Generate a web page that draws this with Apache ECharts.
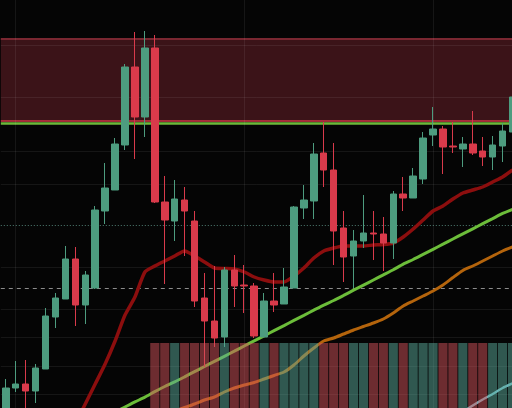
<!DOCTYPE html>
<html><head><meta charset="utf-8">
<script src="https://cdn.jsdelivr.net/npm/echarts@6/dist/echarts.min.js"></script>
<style>html,body{margin:0;padding:0;background:#050505}#c{width:512px;height:408px}</style>
</head><body><div id="c"></div><script>
const categories = ['D01','D02','D03','D04','D05','D06','D07','D08','D09','D10','D11','D12','D13','D14','D15','D16','D17','D18','D19','D20','D21','D22','D23','D24','D25','D26','D27','D28','D29','D30','D31','D32','D33','D34','D35','D36','D37','D38','D39','D40','D41','D42','D43','D44','D45','D46','D47','D48','D49','D50','D51','D52'];
const opens  = [-4,20,24,17,39,91,109,149,103,120,197,218,263,341,291,360,206,187,208,187,110,87,71,138,123,122,71,107,104,120,200,207,255,238,180,152,167,175,174,165,214,210,229,273,279,262,259,264,257,251,262,276];
const closes = [20,24,17,40,92,110,149,103,133,198,220,264,341,291,360,206,188,209,197,107,87,70,138,122,122,72,107,103,121,201,208,254,238,177,151,167,175,174,165,214,210,232,270,279,261,261,264,255,251,263,277,311];
const lows   = [-8,16,-4,5,39,80,109,82,84,119,184,218,258,249,271,205,124,167,152,101,41,61,61,101,95,70,71,96,104,120,189,189,221,143,126,120,160,148,137,149,197,210,224,262,234,255,241,253,242,238,246,270];
const highs  = [29,47,48,44,100,115,162,161,137,202,245,270,344,376,377,373,232,228,221,197,135,142,141,153,143,125,115,135,140,202,223,265,286,265,197,178,213,197,191,217,231,240,276,301,282,286,271,297,271,272,285,315];
const volumes = [null,null,null,null,null,null,null,null,null,null,null,null,null,null,null,100,100,100,100,100,100,100,100,100,100,100,100,100,100,100,100,100,100,100,100,100,100,100,100,100,100,100,100,100,100,100,100,100,100,100,100,100];
const maRed = [null,null,null,null,null,null,null,-16,4,24,44,67,93,111,136,142,147,152,157,152,146,140,139.5,139,136,131,128,126,126,132,140,150,157,160,162,162,162,163,163.5,165,171,179,188,197,202,209,215,218,221,226,231,238];
const maGreen = [null,null,null,null,null,null,null,null,null,null,null,-4.1,1.0,6.1,10.8,16.4,21.5,26.1,31.2,36.4,41.5,46.6,51.7,56.8,62.0,67.1,72.2,77.3,82.4,87.6,92.7,97.8,102.9,107.5,112.6,117.8,122.9,128.0,133.1,138.2,143.9,148.5,153.6,158.7,163.8,169.0,174.1,179.2,184.3,189.4,194.6,198.7];
const maOrange = [null,null,null,null,null,null,null,null,null,null,null,null,null,null,null,null,null,-3,0.5,4,8,11,16,20,23,25.5,29,32.5,36,43,52,60,67,70,74,78,81.5,85,89,95,102,107,112,117,123,130.5,137.5,142,147,152,157,161];
const maTeal = [null,null,null,null,null,null,null,null,null,null,null,null,null,null,null,null,null,null,null,null,null,null,null,null,null,null,null,null,null,null,null,null,null,null,null,null,null,null,null,null,null,null,null,null,null,null,-4,2.5,8.5,14,20,24.5];
const gridLevels = [363,311,257,224,141,99,71,42,14];
const gridCats = [1,24,43];
const bandTop = 369.2, bandBottom = 287.2, supportLine = 285.2, dottedLevel = 182.7, dashedLevel = 119.7;

const UP = '#4d9c7f', DOWN = '#d93a4b';
const candleData = categories.map((c,i)=>[opens[i],closes[i],lows[i],highs[i]]);
const volData = volumes.map((v,i)=> v==null ? '-' : {value:v, itemStyle:{color: closes[i]>=opens[i] ? 'rgba(92,172,156,0.5)' : 'rgba(214,84,92,0.5)'}});

const chart = echarts.init(document.getElementById('c'), null, {renderer:'canvas'});
const gl = {color:'rgba(255,255,255,0.07)', width:1, type:'solid'};
chart.setOption({
  animation:false,
  backgroundColor:'#050505',
  grid:[{left:0.8, top:0, width:516.7, height:408, outerBoundsMode:'none'},
        {left:0.8, top:343, width:516.7, height:65, outerBoundsMode:'none'}],
  xAxis:[{type:'category', data:categories, gridIndex:0, show:false},
         {type:'category', data:categories, gridIndex:1, show:false}],
  yAxis:[{type:'value', min:0, max:408, gridIndex:0, show:false},
         {type:'value', min:0, max:100, gridIndex:1, show:false}],
  series:[
    {type:'candlestick', name:'price', xAxisIndex:0, yAxisIndex:0, z:3, barWidth:7, data:candleData,
     itemStyle:{color:UP, color0:DOWN, borderColor:UP, borderColor0:DOWN, borderWidth:1},
     markArea:{silent:true, z:1, itemStyle:{color:'#3b1318'}, data:[[{yAxis:bandTop},{yAxis:bandBottom}]]},
     markLine:{silent:true, z:2, symbol:['none','none'], label:{show:false}, data:[
       {yAxis:bandTop, lineStyle:{color:'#7a2731', width:2, type:'solid'}},
       {yAxis:bandBottom, lineStyle:{color:'#d23a48', width:1.5, type:'solid'}},
       {yAxis:supportLine, lineStyle:{color:'#6cb83a', width:2.5, type:'solid'}},
       {yAxis:dottedLevel, lineStyle:{color:'#4f7d72', width:1, type:[1,2]}},
       {yAxis:dashedLevel, lineStyle:{color:'#8c8c8c', width:1, type:[4,4]}}
     ]}},
    {type:'line', name:'MA1', data:maRed, z:2, symbol:'none', smooth:0.2,
     lineStyle:{color:'#8c0e0e', width:3.5},
     markLine:{silent:true, z:2, symbol:['none','none'], label:{show:false},
       data: gridLevels.map(v=>({yAxis:v, lineStyle:gl})).concat(gridCats.map(c=>({xAxis:c, lineStyle:gl})))}},
    {type:'line', name:'MA2', data:maGreen, z:2, symbol:'none', smooth:0.2, lineStyle:{color:'#6cbd3a', width:3}},
    {type:'line', name:'MA3', data:maOrange, z:2, symbol:'none', smooth:0.2, lineStyle:{color:'#b4640c', width:3}},
    {type:'line', name:'MA4', data:maTeal, z:2, symbol:'none', smooth:0.2, lineStyle:{color:'#70b8c2', width:2.5}},
    {type:'bar', name:'volume', xAxisIndex:1, yAxisIndex:1, z:10, barWidth:'92%', data:volData}
  ]
});
</script></body></html>
